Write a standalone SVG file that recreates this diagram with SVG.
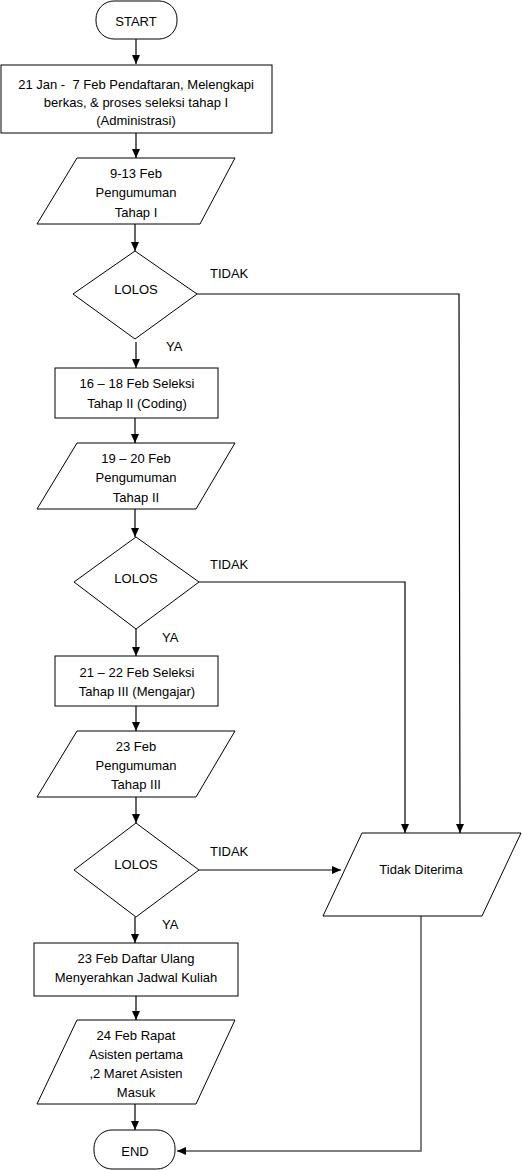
<svg xmlns="http://www.w3.org/2000/svg" width="522" height="1170" viewBox="0 0 522 1170">
<style>
.s{fill:#fff;stroke:#000;stroke-width:1}
.t{font-family:"Liberation Sans",Arial,sans-serif;font-size:13px;fill:#000;text-anchor:middle}
.l{font-family:"Liberation Sans",Arial,sans-serif;font-size:13px;fill:#000}
.c{fill:none;stroke:#000;stroke-width:1.2}
.g{fill:none;stroke:#555;stroke-width:1.5}
</style>
<defs>
<marker id="a" markerWidth="10" markerHeight="10" refX="9" refY="5" orient="auto" markerUnits="userSpaceOnUse">
<path d="M0,1 L9,5 L0,9 Z" fill="#000"/>
</marker>
</defs>
<rect width="522" height="1170" fill="#fff"/>
<g id="connectors">
<line class="c" x1="136" y1="39" x2="136" y2="64" marker-end="url(#a)"/>
<line class="c" x1="136" y1="133" x2="136" y2="158" marker-end="url(#a)"/>
<line class="c" x1="135" y1="224" x2="135" y2="251" marker-end="url(#a)"/>
<polyline class="c" points="197,294 459,294 460,833" marker-end="url(#a)"/>
<line class="c" x1="136" y1="342" x2="136" y2="368" marker-end="url(#a)"/>
<line class="c" x1="135" y1="418" x2="135" y2="443" marker-end="url(#a)"/>
<line class="c" x1="135" y1="509" x2="135" y2="537" marker-end="url(#a)"/>
<polyline class="c" points="199,582 405,582 405,833" marker-end="url(#a)"/>
<line class="c" x1="136" y1="629" x2="136" y2="656" marker-end="url(#a)"/>
<line class="c" x1="136" y1="706" x2="136" y2="731" marker-end="url(#a)"/>
<line class="c" x1="136" y1="797" x2="136" y2="823" marker-end="url(#a)"/>
<line class="c" x1="199" y1="870" x2="341" y2="870" marker-end="url(#a)"/>
<line class="c" x1="135" y1="917" x2="135" y2="943" marker-end="url(#a)"/>
<line class="c" x1="136" y1="996" x2="136" y2="1020" marker-end="url(#a)"/>
<line class="c" x1="135" y1="1104" x2="135" y2="1130" marker-end="url(#a)"/>
<polyline class="g" points="421,916 421,1151 177,1151" marker-end="url(#a)"/>
</g>
<g id="labels">
<text class="l" x="210" y="278">TIDAK</text>
<text class="l" x="166" y="351">YA</text>
<text class="l" x="210" y="569">TIDAK</text>
<text class="l" x="162" y="642">YA</text>
<text class="l" x="210" y="856">TIDAK</text>
<text class="l" x="162" y="929">YA</text>
</g>
<g id="start">
<rect class="s" x="96" y="1" width="81" height="38" rx="18" ry="18"/>
<text class="t" x="136" y="25.5">START</text>
</g>
<g id="daftar">
<rect class="s" x="1" y="65" width="271" height="68"/>
<text class="t" x="136" y="88.5" xml:space="preserve">21 Jan -  7 Feb Pendaftaran, Melengkapi</text>
<text class="t" x="136" y="106.5">berkas, &amp; proses seleksi tahap I</text>
<text class="t" x="136" y="124.5">(Administrasi)</text>
</g>
<g id="umum1">
<polygon class="s" points="77,158 235,158 200,224 37,224"/>
<text class="t" x="136" y="177.5">9-13 Feb</text>
<text class="t" x="136" y="197">Pengumuman</text>
<text class="t" x="136" y="216.5">Tahap I</text>
</g>
<g id="lolos1">
<polygon class="s" points="135,251 197,294 135,339 73,294"/>
<text class="t" x="136" y="293.5">LOLOS</text>
</g>
<g id="seleksi2">
<rect class="s" x="55" y="368" width="163" height="50"/>
<text class="t" x="137" y="387.5">16 – 18 Feb Seleksi</text>
<text class="t" x="137" y="407.5">Tahap II (Coding)</text>
</g>
<g id="umum2">
<polygon class="s" points="77,443 235,443 196,509 37,509"/>
<text class="t" x="136" y="462.5">19 – 20 Feb</text>
<text class="t" x="136" y="481.5">Pengumuman</text>
<text class="t" x="136" y="501.5">Tahap II</text>
</g>
<g id="lolos2">
<polygon class="s" points="136,537 199,582 136,629 74,582"/>
<text class="t" x="136" y="582.5">LOLOS</text>
</g>
<g id="seleksi3">
<rect class="s" x="55" y="656" width="163" height="50"/>
<text class="t" x="137" y="676.5">21 – 22 Feb Seleksi</text>
<text class="t" x="137" y="695.5">Tahap III (Mengajar)</text>
</g>
<g id="umum3">
<polygon class="s" points="77,731 235,731 196,797 37,797"/>
<text class="t" x="136" y="750.5">23 Feb</text>
<text class="t" x="136" y="769.5">Pengumuman</text>
<text class="t" x="136" y="788.5">Tahap III</text>
</g>
<g id="lolos3">
<polygon class="s" points="136,823 199,870 136,917 74,870"/>
<text class="t" x="136" y="868.5">LOLOS</text>
</g>
<g id="daftarulang">
<rect class="s" x="34" y="943" width="204" height="53"/>
<text class="t" x="136" y="962.5">23 Feb Daftar Ulang</text>
<text class="t" x="136" y="981.5">Menyerahkan Jadwal Kuliah</text>
</g>
<g id="rapat">
<polygon class="s" points="77,1020 235,1020 196,1104 37,1104"/>
<text class="t" x="136" y="1039.5">24 Feb Rapat</text>
<text class="t" x="136" y="1058.5">Asisten pertama</text>
<text class="t" x="136" y="1077.5">,2 Maret Asisten</text>
<text class="t" x="136" y="1096.5">Masuk</text>
</g>
<g id="tidakditerima">
<polygon class="s" points="362,833 521,833 482,916 323,916"/>
<text class="t" x="421" y="873.5">Tidak Diterima</text>
</g>
<g id="end">
<rect class="s" x="94" y="1130" width="81" height="39" rx="18" ry="18"/>
<text class="t" x="135" y="1155.5">END</text>
</g>
</svg>
